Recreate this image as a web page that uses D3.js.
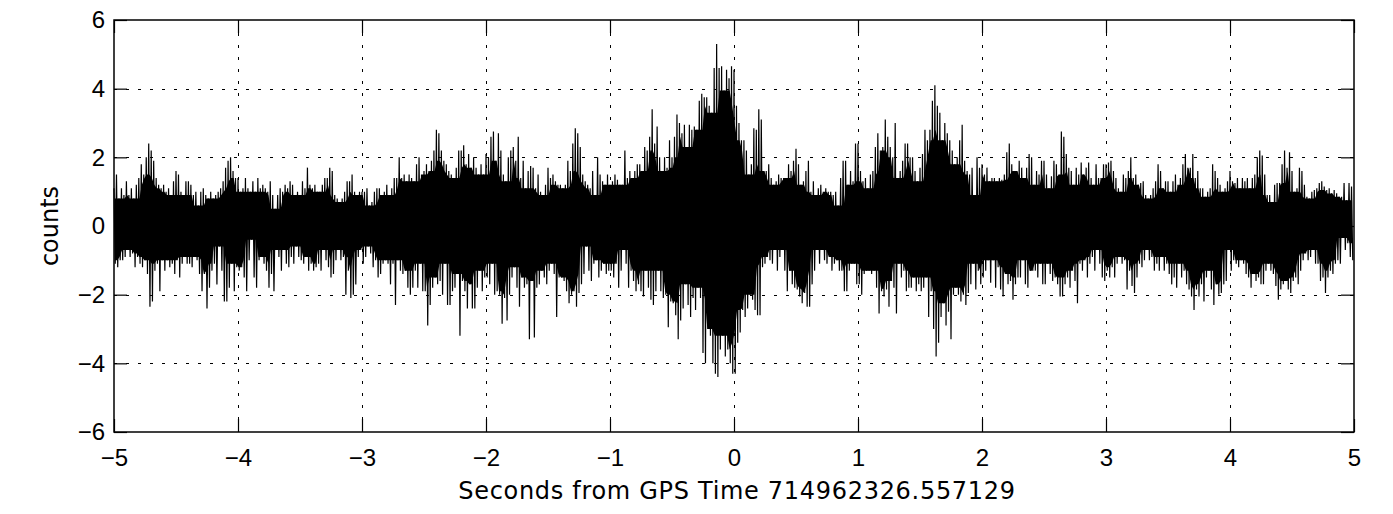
<!DOCTYPE html>
<html>
<head>
<meta charset="utf-8">
<script src="https://cdn.jsdelivr.net/npm/d3@7"></script>
<style>
  body { margin: 0; background: #fff; }
  svg { display: block; font-family: "DejaVu Sans", "Liberation Sans", Arial, sans-serif; }
  .tick text { font-size: 24px; fill: #000; }
  .tick line { stroke: #000; }
</style>
</head>
<body>
<svg id="chart"></svg>
<script>
// strain channel: per 0.02 s bin, the top and bottom of the trace
var tStart = -5, tStep = 0.02;

var hiVals = [
  // -5 .. -4
  1.1,1.5,0.8,1.1,0.9, 1.3,0.9,1.1,0.8,1.2, 1.4,1.8,1.5,2.0,2.4, 2.2,1.9,1.4,1.2,1.1, 1.2,1.0,1.1,0.9,1.3,
  1.6,1.5,1.0,0.9,1.3, 1.3,1.2,0.9,1.0,0.6, 1.0,1.1,0.9,0.8,1.0, 0.8,0.9,1.0,1.1,1.3, 1.7,1.9,2.0,1.6,1.4,
  // -4 .. -3
  1.4,1.0,1.1,1.4,1.1, 1.0,1.3,1.0,1.4,1.1, 1.2,1.1,1.0,1.3,0.9, 0.5,0.9,1.1,1.0,1.2, 1.1,1.3,1.2,0.9,1.0,
  0.9,1.3,1.1,1.7,1.2, 1.1,1.2,1.0,1.0,1.2, 1.4,1.4,1.7,1.6,0.9, 0.8,0.7,0.8,1.0,1.3, 1.3,1.5,1.0,0.9,1.0,
  // -3 .. -2
  1.0,1.0,1.1,0.6,0.7, 1.0,1.1,1.1,0.9,1.0, 1.2,0.9,1.1,1.4,1.4, 2.0,1.4,1.5,1.3,1.5, 1.4,1.3,1.8,2.0,1.5,
  1.6,1.8,1.6,1.9,2.2, 2.8,2.7,2.2,1.9,1.8, 1.6,1.5,1.4,1.7,2.2, 2.2,2.35,1.8,2.1,1.7, 2.0,1.7,1.5,1.8,1.5,
  // -2 .. -1
  2.1,2.0,2.6,2.75,1.9, 2.7,2.2,1.5,1.3,2.0, 2.2,2.3,1.9,2.6,1.4, 1.9,1.1,1.6,1.75,1.7, 1.1,1.5,1.0,0.9,1.2,
  1.7,1.4,1.5,1.3,1.2, 1.2,1.1,1.2,1.9,1.6, 2.4,2.85,2.7,2.3,1.5, 1.3,1.2,1.1,1.6,0.9, 2.0,1.5,1.3,1.2,1.5,
  // -1 .. 0
  1.2,1.3,1.5,1.35,1.2, 1.2,2.2,1.4,1.6,1.4, 1.6,1.8,1.8,1.6,2.3, 2.2,2.6,3.4,2.4,2.9, 2.0,1.6,2.0,1.7,2.5,
  2.0,2.6,3.25,3.0,2.7, 2.95,2.3,2.95,2.8,2.9, 2.8,3.65,3.85,3.75,3.75, 3.5,3.3,4.6,5.3,4.6, 4.65,3.95,4.55,4.3,4.65,
  // 0 .. 1
  4.55,3.5,3.0,2.5,2.5, 2.2,1.5,1.8,2.85,2.8, 3.4,3.1,1.6,1.6,1.8, 1.4,1.2,1.3,1.5,1.4, 1.4,1.4,1.8,1.6,1.9,
  2.25,1.8,1.2,1.3,1.6, 1.9,1.0,1.3,0.9,1.1, 1.2,1.0,1.1,1.0,1.0, 0.9,1.0,0.6,1.4,1.9, 1.9,1.2,1.6,1.3,2.4,
  // 1 .. 2
  2.4,1.6,1.3,1.4,1.1, 1.5,1.6,2.3,2.7,2.2, 2.3,3.1,2.6,2.3,2.0, 3.0,1.4,1.6,1.9,2.4, 2.4,2.0,2.0,1.6,1.3,
  1.7,2.1,2.8,2.5,2.8, 3.65,4.1,3.5,3.3,2.5, 3.0,2.7,2.5,2.2,1.8, 2.0,2.5,2.95,1.9,1.6, 1.5,1.7,0.9,2.0,1.7,
  // 2 .. 3
  1.8,1.5,1.7,1.3,1.4, 1.4,1.3,1.4,1.35,1.5, 2.15,2.4,1.8,1.6,1.6, 1.9,1.7,1.4,1.7,2.1, 2.0,1.2,1.6,1.5,1.9,
  1.9,1.5,1.1,1.45,1.9, 1.8,1.5,2.75,2.6,2.1, 1.7,1.6,1.2,1.7,1.5, 1.85,1.5,1.7,1.85,1.4, 1.2,1.8,1.4,1.4,1.8,
  // 3 .. 4
  1.8,1.85,1.9,1.6,1.4, 1.1,1.0,1.5,1.4,1.6, 2.0,1.4,1.5,1.2,1.25, 1.3,0.9,0.8,0.9,1.1, 1.3,1.8,1.6,1.1,1.3,
  1.3,1.0,1.3,1.5,1.2, 1.4,1.8,2.1,1.7,1.7, 2.1,1.4,1.6,1.1,1.1, 0.85,1.0,1.1,1.8,1.6, 1.4,1.2,1.0,1.1,1.3,
  // 4 .. 5
  1.6,1.3,1.25,1.4,1.1, 1.4,1.3,1.4,1.1,1.4, 1.5,2.0,2.2,2.05,1.5, 0.9,0.9,0.7,1.2,1.25, 1.25,1.8,2.2,1.7,2.15,
  1.6,1.0,1.1,1.7,1.6, 1.2,0.85,0.8,1.0,1.05, 1.1,1.25,1.3,1.15,1.05, 1.1,0.95,1.05,0.95,0.85, 0.85,1.25,0.75,1.25,1.15
];

var loVals = [
  // -5 .. -4
  -1.1,-1.2,-1.0,-1.0,-0.9, -0.7,-0.9,-0.8,-1.2,-0.9, -1.1,-1.2,-1.0,-1.4,-2.35, -2.2,-1.3,-1.1,-1.9,-1.0, -1.3,-1.0,-1.2,-1.1,-1.4,
  -1.0,-1.5,-1.1,-0.9,-1.1, -1.1,-1.2,-0.9,-1.0,-1.4, -1.9,-1.4,-2.4,-1.8,-1.3, -1.1,-1.7,-0.6,-1.3,-2.2, -2.2,-1.8,-1.1,-1.9,-1.2,
  // -4 .. -3
  -1.3,-1.2,-1.5,-1.9,-1.0, -0.4,-1.5,-1.8,-1.0,-0.9, -1.1,-1.3,-1.8,-1.4,-1.9, -0.7,-0.9,-1.3,-0.7,-1.1, -1.2,-0.9,-1.1,-0.6,-0.9,
  -1.0,-1.1,-0.9,-1.3,-1.1, -1.3,-1.2,-1.1,-1.3,-0.7, -1.0,-1.2,-1.5,-1.4,-1.0, -0.7,-1.0,-0.9,-2.0,-1.3, -2.1,-2.0,-1.7,-0.9,-0.7,
  // -3 .. -2
  -1.1,-0.9,-0.6,-0.8,-1.2, -1.0,-1.5,-1.4,-1.1,-1.0, -1.1,-1.7,-1.1,-2.3,-1.0, -1.3,-1.4,-1.3,-1.8,-2.0, -1.8,-1.3,-1.8,-1.1,-1.9,
  -1.9,-2.9,-2.3,-1.8,-1.5, -1.7,-1.6,-2.0,-1.1,-2.3, -2.3,-1.9,-1.8,-1.4,-3.2, -1.6,-1.9,-2.4,-1.7,-2.4, -2.4,-1.8,-1.3,-1.9,-1.5,
  // -2 .. -1
  -1.5,-1.7,-1.1,-2.0,-1.9, -2.0,-2.85,-2.1,-2.75,-2.0, -1.5,-1.2,-1.8,-2.35,-1.5, -1.8,-1.7,-3.3,-1.6,-3.25, -1.8,-1.7,-1.3,-1.5,-1.7,
  -1.3,-1.1,-1.4,-2.65,-1.5, -1.5,-1.6,-1.9,-2.25,-2.0, -1.9,-2.35,-1.95,-1.7,-1.4, -0.6,-1.3,-1.6,-1.1,-1.0, -1.5,-1.3,-1.1,-1.4,-1.3,
  // -1 .. 0
  -1.3,-1.5,-1.1,-1.8,-1.3, -0.7,-1.1,-1.8,-1.3,-1.6, -1.9,-1.7,-1.9,-2.05,-1.3, -1.8,-2.15,-2.3,-1.9,-1.3, -1.9,-2.1,-2.0,-2.95,-2.2,
  -2.25,-2.6,-3.3,-2.75,-2.4, -1.7,-2.3,-2.65,-2.1,-2.45, -1.8,-2.1,-3.7,-4.0,-3.0, -3.2,-4.0,-4.3,-4.4,-3.6, -3.2,-3.8,-3.6,-4.0,-4.3,
  // 0 .. 1
  -4.3,-3.4,-3.1,-2.45,-2.65, -2.4,-2.0,-2.15,-2.45,-2.6, -2.6,-1.2,-1.1,-0.9,-1.0, -1.1,-0.7,-1.3,-0.9,-0.7, -1.3,-1.9,-1.3,-1.7,-1.8,
  -1.85,-2.05,-2.25,-1.95,-2.35, -2.35,-1.7,-1.3,-0.7,-1.1, -0.7,-1.0,-1.1,-0.9,-1.3, -1.1,-1.0,-1.3,-1.3,-1.9, -1.9,-1.3,-1.1,-1.1,-1.7,
  // 1 .. 2
  -1.7,-2.0,-1.4,-1.3,-1.3, -1.4,-1.3,-1.8,-2.55,-1.9, -2.05,-1.85,-2.35,-1.6,-1.8, -2.55,-1.1,-1.5,-1.3,-1.9, -1.8,-1.8,-1.5,-1.9,-1.7,
  -1.9,-1.8,-1.5,-2.65,-1.9, -3.0,-3.8,-3.4,-2.65,-2.25, -2.9,-2.5,-3.3,-2.0,-1.8, -2.0,-2.2,-2.0,-2.3,-1.95, -1.7,-1.1,-1.85,-1.3,-1.7,
  // 2 .. 3
  -1.5,-1.3,-1.0,-1.65,-1.0, -1.8,-1.2,-1.85,-2.05,-1.4, -1.7,-1.6,-2.15,-1.7,-1.5, -1.5,-1.0,-1.7,-1.8,-1.3, -1.3,-1.3,-1.5,-1.1,-1.7,
  -1.7,-1.1,-1.4,-1.6,-1.5, -1.7,-2.05,-2.05,-1.7,-1.5, -1.8,-1.3,-1.6,-2.25,-1.1, -1.3,-1.0,-1.5,-1.1,-0.9, -1.3,-0.7,-1.1,-1.5,-1.6,
  // 3 .. 4
  -1.3,-1.5,-1.2,-1.5,-1.1, -0.9,-1.1,-1.0,-1.85,-1.3, -1.75,-1.95,-1.5,-1.1,-1.2, -1.0,-0.7,-1.0,-0.9,-1.3, -1.1,-1.3,-0.9,-1.3,-1.1,
  -1.4,-1.7,-1.5,-1.8,-1.1, -1.5,-1.3,-1.7,-1.85,-2.05, -2.45,-1.85,-2.05,-1.7,-2.2, -1.5,-1.3,-1.85,-2.3,-1.7, -2.0,-1.95,-1.7,-1.6,-0.7,
  // 4 .. 5
  -1.3,-1.0,-1.1,-1.2,-1.0, -1.1,-1.4,-1.5,-1.8,-1.4, -1.6,-1.5,-1.7,-1.7,-1.3, -1.1,-1.3,-1.4,-1.75,-2.15, -1.85,-1.7,-1.6,-1.85,-1.95,
  -1.6,-1.5,-1.7,-1.3,-1.0, -0.8,-1.0,-0.9,-0.7,-1.1, -1.1,-1.6,-1.5,-1.95,-1.5, -1.3,-1.4,-1.1,-1.0,-1.1, -0.35,-0.7,-0.5,-0.9,-1.0
];

var xTicks = [-5, -4, -3, -2, -1, 0, 1, 2, 3, 4, 5];
var yTicks = [-6, -4, -2, 0, 2, 4, 6];
var xLabel = "Seconds from GPS Time 714962326.557129";
var yLabel = "counts";

const width = 1393;
const height = 514;
const box = {left: 114, right: 1354, top: 20, bottom: 432};

const svg = d3.select("#chart")
    .attr("width", width)
    .attr("height", height);

svg.append("rect").attr("width", width).attr("height", height).attr("fill", "#fff");

const x = d3.scaleLinear().domain([-5, 5]).range([box.left, box.right]);
const y = d3.scaleLinear().domain([-6, 6]).range([box.bottom, box.top]);

// dotted grid (inner ticks only)
const grid = svg.append("g").attr("stroke", "#000").attr("stroke-width", 1)
    .attr("stroke-dasharray", "3,9");
grid.selectAll(".gx")
  .data(xTicks.slice(1, -1))
  .enter().append("line")
    .attr("x1", d => Math.round(x(d)) + 0.5).attr("x2", d => Math.round(x(d)) + 0.5)
    .attr("y1", box.bottom).attr("y2", box.top);
grid.selectAll(".gy")
  .data(yTicks.slice(1, -1))
  .enter().append("line")
    .attr("y1", d => Math.round(y(d)) + 0.5).attr("y2", d => Math.round(y(d)) + 0.5)
    .attr("x1", box.left).attr("x2", box.right);

// solid middle of the trace: the band that the neighbouring bins all cover
var core = hiVals.map(function(h, i) {
    var a = Math.max(0, i - 2), b = Math.min(hiVals.length, i + 3);
    return {
        t: tStart + i * tStep + tStep / 4,
        top: d3.min(hiVals.slice(a, b)),
        bot: d3.max(loVals.slice(a, b))
    };
});

svg.append("path")
    .datum(core)
    .attr("fill", "#000")
    .attr("d", d3.area()
        .x(d => x(d.t))
        .y0(d => y(d.bot))
        .y1(d => y(d.top)));

// the trace: alternate top and bottom of each bin
var samples = [];
for (var i = 0; i < hiVals.length; i++) {
    var t = tStart + i * tStep;
    samples.push([t, hiVals[i]]);
    samples.push([t + tStep / 2, loVals[i]]);
}

const line = d3.line()
    .x(d => x(d[0]))
    .y(d => y(d[1]));

svg.append("path")
    .datum(samples)
    .attr("fill", "none")
    .attr("stroke", "#000")
    .attr("stroke-width", 1.2)
    .attr("d", line);

// axes, ticks pointing inward on every side
const tick = 13;
svg.append("g")
    .attr("transform", `translate(0,${box.bottom})`)
    .call(d3.axisBottom(x).tickValues(xTicks).tickSize(-tick).tickSizeOuter(0).tickPadding(17))
    .call(g => g.select(".domain").remove());
svg.append("g")
    .attr("transform", `translate(0,${box.top})`)
    .call(d3.axisTop(x).tickValues(xTicks).tickSize(-tick).tickSizeOuter(0).tickFormat(""))
    .call(g => g.select(".domain").remove());
svg.append("g")
    .attr("transform", `translate(${box.left},0)`)
    .call(d3.axisLeft(y).tickValues(yTicks).tickSize(-tick).tickSizeOuter(0).tickPadding(9))
    .call(g => g.select(".domain").remove());
svg.append("g")
    .attr("transform", `translate(${box.right},0)`)
    .call(d3.axisRight(y).tickValues(yTicks).tickSize(-tick).tickSizeOuter(0).tickFormat(""))
    .call(g => g.select(".domain").remove());

svg.selectAll(".tick line").attr("stroke-width", 1.2);

svg.append("rect")
    .attr("x", box.left).attr("y", box.top)
    .attr("width", box.right - box.left).attr("height", box.bottom - box.top)
    .attr("fill", "none").attr("stroke", "#000").attr("stroke-width", 1.5);

svg.append("text")
    .attr("x", (box.left + box.right) / 2 + 3)
    .attr("y", 499)
    .attr("text-anchor", "middle")
    .attr("font-size", 24)
    .attr("letter-spacing", "0.7px")
    .text(xLabel);

svg.append("text")
    .attr("transform", `translate(58,${(box.top + box.bottom) / 2}) rotate(-90)`)
    .attr("text-anchor", "middle")
    .attr("font-size", 24)
    .text(yLabel);
</script>
</body>
</html>
